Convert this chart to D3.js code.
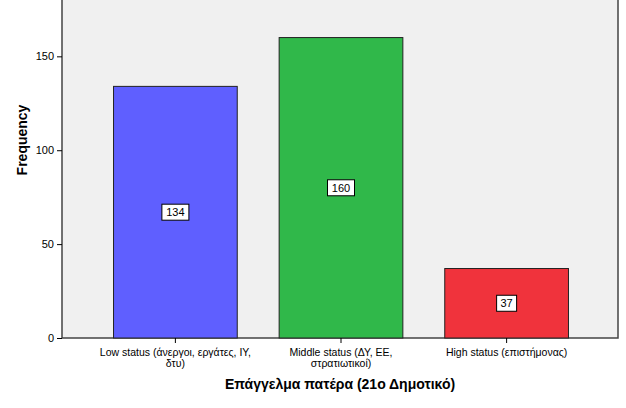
<!DOCTYPE html>
<html><head><meta charset="utf-8">
<script src="https://cdn.jsdelivr.net/npm/d3@7"></script>
<style>body{margin:0;background:#fff}text{font-family:Arial,"Liberation Sans",sans-serif}</style>
</head><body>
<svg id="c" width="626" height="408"></svg>
<script>
const categories = [["Low status (άνεργοι, εργάτες, ΙΥ,","δτυ)"],["Middle status (ΔΥ, ΕΕ,","στρατιωτικοί)"],["High status (επιστήμονας)"]];
const values = [134,160,37];
const colors = ["#5f5fff","#30b84a","#f0333c"];
const yTicks = [0,50,100,150];

const svg = d3.select("#c");
const L=62,R=618,T=-1,B=338;
const x = d3.scaleBand().domain(d3.range(3)).range([L+30,R-28]).paddingInner(0.253).paddingOuter(0.13);
const y = d3.scaleLinear().domain([0,180]).range([B,B-338]);
svg.append("rect").attr("x",L).attr("y",T).attr("width",R-L).attr("height",B-T).attr("fill","#f0f0f0").attr("stroke","#444").attr("stroke-width",1.5);
svg.selectAll(".bar").data(values).enter().append("rect")
 .attr("x",(d,i)=>x(i)).attr("width",x.bandwidth()).attr("y",d=>y(d)).attr("height",d=>B-y(d))
 .attr("fill",(d,i)=>colors[i]).attr("stroke","#222").attr("stroke-width",1);
const ya = svg.append("g").attr("transform",`translate(${L},0)`).call(d3.axisLeft(y).tickValues(yTicks).tickSize(5).tickSizeOuter(0));
ya.select(".domain").remove();
ya.selectAll("text").attr("font-size",11).attr("fill","#000");
const xa = svg.append("g").attr("transform",`translate(0,${B})`).call(d3.axisBottom(x).tickSize(5).tickFormat(""));
xa.select(".domain").remove();
categories.forEach((lines,i)=>{
 const t=svg.append("text").attr("text-anchor","middle").attr("font-size",10.5).attr("fill","#000");
 lines.forEach((s,j)=>t.append("tspan").attr("x",x(i)+x.bandwidth()/2).attr("y",B+18+j*11).text(s));
});
values.forEach((v,i)=>{
 const cx=x(i)+x.bandwidth()/2, cy=y(v/2);
 const w=String(v).length*7+6;
 svg.append("rect").attr("x",cx-w/2).attr("y",cy-8).attr("width",w).attr("height",16).attr("fill","#fff").attr("stroke","#000");
 svg.append("text").attr("x",cx).attr("y",cy+4).attr("text-anchor","middle").attr("font-size",11).text(v);
});
svg.append("text").attr("transform","translate(27,140) rotate(-90)").attr("text-anchor","middle").attr("font-size",14).attr("font-weight","bold").text("Frequency");
svg.append("text").attr("x",340).attr("y",389).attr("text-anchor","middle").attr("font-size",14).attr("font-weight","bold").text("Επάγγελμα πατέρα (21ο Δημοτικό)");
</script></body></html>
